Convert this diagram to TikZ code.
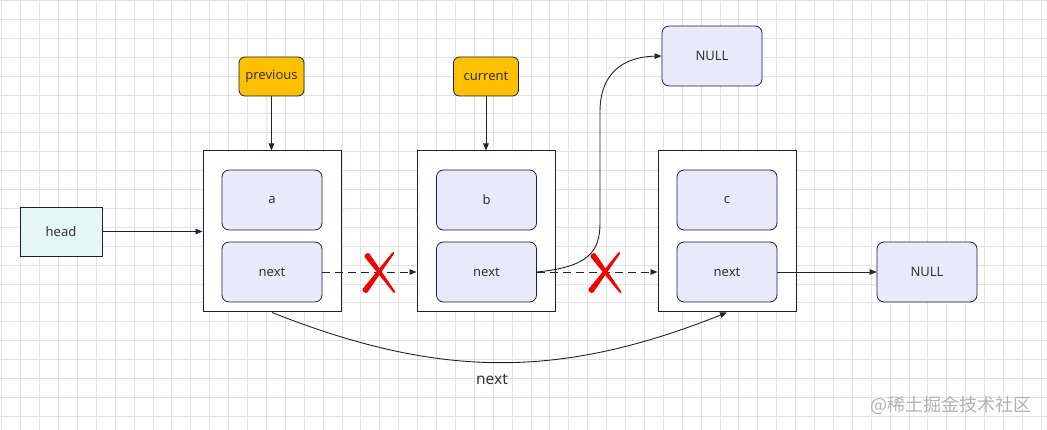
\documentclass[tikz,border=0pt]{standalone}
\usepackage{fontspec}
\setmainfont{Noto Sans}
\newfontfamily\cjk{Noto Sans CJK SC}
\usepackage{tikz}
\usetikzlibrary{arrows.meta, calc}
\usepackage{xcolor}
\definecolor{gridgray}{HTML}{E2E2E2}
\definecolor{cellblue}{HTML}{E8EAFB}
\definecolor{headmint}{HTML}{E6F6F2}
\definecolor{ptryellow}{HTML}{FFC000}
\definecolor{edgenavy}{HTML}{1C1C3C}
\definecolor{txtgray}{HTML}{333333}
\definecolor{crossred}{HTML}{F00000}

\begin{document}
\begin{tikzpicture}[x=1pt, y=-1pt, font=\fontsize{13}{15}\selectfont,
  frame/.style={draw=edgenavy, fill=white, line width=1pt, minimum width=138pt, minimum height=161pt, inner sep=0pt},
  cell/.style={draw=edgenavy, fill=cellblue, rounded corners=7pt, line width=0.8pt, minimum width=100pt, minimum height=60pt, inner sep=0pt, text=txtgray},
  headbox/.style={draw=edgenavy, fill=headmint, line width=0.8pt, minimum width=82pt, minimum height=49pt, inner sep=0pt, text=txtgray},
  ptrbox/.style={draw=edgenavy, fill=ptryellow, rounded corners=6pt, line width=0.8pt, minimum width=65pt, minimum height=39pt, inner sep=0pt, text=txtgray},
  link/.style={draw=txtgray!70!black, line width=0.9pt, -{Triangle[length=7pt, width=5.5pt]}},
  broken/.style={link, dash pattern=on 8pt off 5pt}]

\fill[white] (0,0) rectangle (1047,430);
\useasboundingbox (0,0) rectangle (1047,430);
% background grid
\foreach \i in {0,...,55} \draw[gridgray, line width=0.8pt] ({1.7+18.9*\i},0) -- ({1.7+18.9*\i},430);
\foreach \j in {0,...,22} \draw[gridgray, line width=0.8pt] (0,{0.5+18.9*\j}) -- (1047,{0.5+18.9*\j});

% list nodes
\node[frame] (frameA) at (272,231.5) {};
\node[frame] (frameB) at (486,231.5) {};
\node[frame] (frameC) at (727,231.5) {};
\node[cell] (valA) at (272,200) {a};
\node[cell] (nextA) at (272,272) {next};
\node[cell] (valB) at (486.5,200) {b};
\node[cell] (nextB) at (486.5,272) {next};
\node[cell] (valC) at (727,200) {c};
\node[cell] (nextC) at (727,272) {next};
\node[cell] (nullA) at (712,56) {NULL};
\node[cell] (nullB) at (927,272) {NULL};
\node[headbox] (head) at (61,231.5) {head};
\node[ptrbox] (prev) at (271.5,76.5) {previous};
\node[ptrbox] (curr) at (486,76.5) {current};

% pointers
\draw[link] (head.east) -- (frameA.west);
\draw[link] (prev.south) -- (prev.south |- frameA.north);
\draw[link] (curr.south) -- (curr.south |- frameB.north);
\draw[broken] (nextA.east) -- (nextA.east -| frameB.west);
\draw[broken] (nextB.east) -- (nextB.east -| frameC.west);
\draw[link] (nextB.east) .. controls (588,267) and (600,252) .. (600,223) -- (600,112) .. controls (600,74) and (622,57) .. (nullA.west);
\draw[link] (nextC.east) -- (nullB.west);
\draw[link] (frameA.south) .. controls (440,379) and (560,379) .. (frameC.south);
\node[font=\fontsize{15.5}{18}\selectfont, text=txtgray] (lblNext) at (492,379) {next};

% red crosses
\foreach \cx in {380,606} {
  \begin{scope}[shift={(\cx,272)}]
    \fill[crossred, rounded corners=1.5pt] (-11.6,-19.8) -- (15.8,20.4) -- (14.2,21.6) -- (-16.4,-16.2) -- cycle;
    \fill[crossred, rounded corners=1.5pt] (14.8,-19.4) -- (-13.6,21.8) -- (-18.4,18.2) -- (13.2,-20.6) -- cycle;
  \end{scope}
}

\node[font=\cjk\fontsize{18}{20}\selectfont, text=black!30] (wm) at (951,405) {@稀土掘金技术社区};
\end{tikzpicture}
\end{document}
